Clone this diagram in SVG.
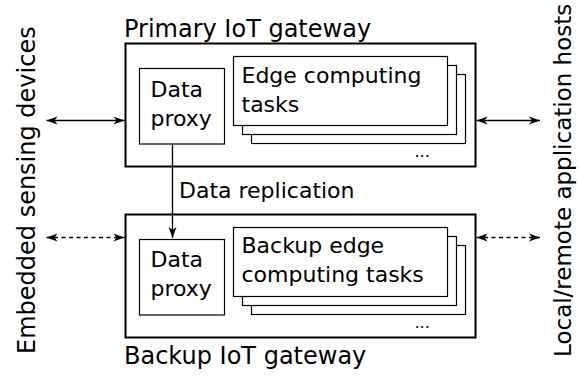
<svg xmlns="http://www.w3.org/2000/svg" width="579" height="379" viewBox="0 0 579 379">
<style>
text{font-family:"DejaVu Sans","Liberation Sans",sans-serif;fill:#000}
.t24{font-size:24px}
.t23{font-size:23px}
.t22{font-size:22px}
.dots{font-size:16px}
.gw{fill:#fff;stroke:#000;stroke-width:2}
.box{fill:#fff;stroke:#000;stroke-width:1.2}
.ln{fill:none;stroke:#000;stroke-width:1.3}
.dash{stroke-dasharray:4 3.5}
</style>
<defs>
<marker id="ah" markerUnits="userSpaceOnUse" markerWidth="12" markerHeight="10" refX="11" refY="4.5" orient="auto-start-reverse" viewBox="0 0 12 10">
<path d="M0,0.5 L11,4.5 L0,8.5 L3,4.5 Z" fill="#000"/>
</marker>
</defs>
<rect width="579" height="379" fill="#fff"/>

<g id="label-sensing">
<text class="t24" transform="translate(35,354) rotate(-90)">Embedded sensing devices</text>
</g>
<g id="label-hosts">
<text class="t23" transform="translate(571,357) rotate(-90)">Local/remote application hosts</text>
</g>

<g id="primary-gateway">
<text class="t24" x="124" y="36.5">Primary IoT gateway</text>
<rect class="gw" x="125.5" y="43.5" width="350" height="123"/>
</g>
<g id="primary-proxy">
<rect class="box" x="139.5" y="68.5" width="85" height="75.5"/>
<text class="t22" x="150.5" y="96.5">Data</text>
<text class="t22" x="150.5" y="125.5">proxy</text>
</g>
<g id="primary-tasks">
<rect class="box" x="251.5" y="74.5" width="214" height="69"/>
<rect class="box" x="242.5" y="65.5" width="214" height="69"/>
<rect class="box" x="233.5" y="56.5" width="214" height="69"/>
<text class="t22" x="241.5" y="82.5">Edge computing</text>
<text class="t22" x="241.5" y="111.5">tasks</text>
<text class="dots" x="414.5" y="157">...</text>
</g>

<g id="backup-gateway">
<rect class="gw" x="125.5" y="214.5" width="350" height="123"/>
<text class="t24" x="124" y="363.5">Backup IoT gateway</text>
</g>
<g id="backup-proxy">
<rect class="box" x="139.5" y="239.5" width="85" height="75.5"/>
<text class="t22" x="150.5" y="267">Data</text>
<text class="t22" x="150.5" y="296">proxy</text>
</g>
<g id="backup-tasks">
<rect class="box" x="251.5" y="245.5" width="214" height="69"/>
<rect class="box" x="242.5" y="236.5" width="214" height="69"/>
<rect class="box" x="233.5" y="227.5" width="214" height="69"/>
<text class="t22" x="241.5" y="252.5">Backup edge</text>
<text class="t22" x="241.5" y="281.5">computing tasks</text>
<text class="dots" x="414.5" y="328">...</text>
</g>

<g id="connectors">
<line class="ln" x1="46.5" y1="120.5" x2="124.5" y2="120.5" marker-start="url(#ah)" marker-end="url(#ah)"/>
<line class="ln" x1="476.5" y1="120.5" x2="540" y2="120.5" marker-start="url(#ah)" marker-end="url(#ah)"/>
<line class="ln dash" x1="46.5" y1="237.5" x2="124.5" y2="237.5" marker-start="url(#ah)" marker-end="url(#ah)"/>
<line class="ln dash" x1="476.5" y1="237.5" x2="540" y2="237.5" marker-start="url(#ah)" marker-end="url(#ah)"/>
<line class="ln" x1="172.5" y1="144" x2="172.5" y2="238" marker-end="url(#ah)"/>
<text class="t22" x="179" y="197.5">Data replication</text>
</g>
</svg>
